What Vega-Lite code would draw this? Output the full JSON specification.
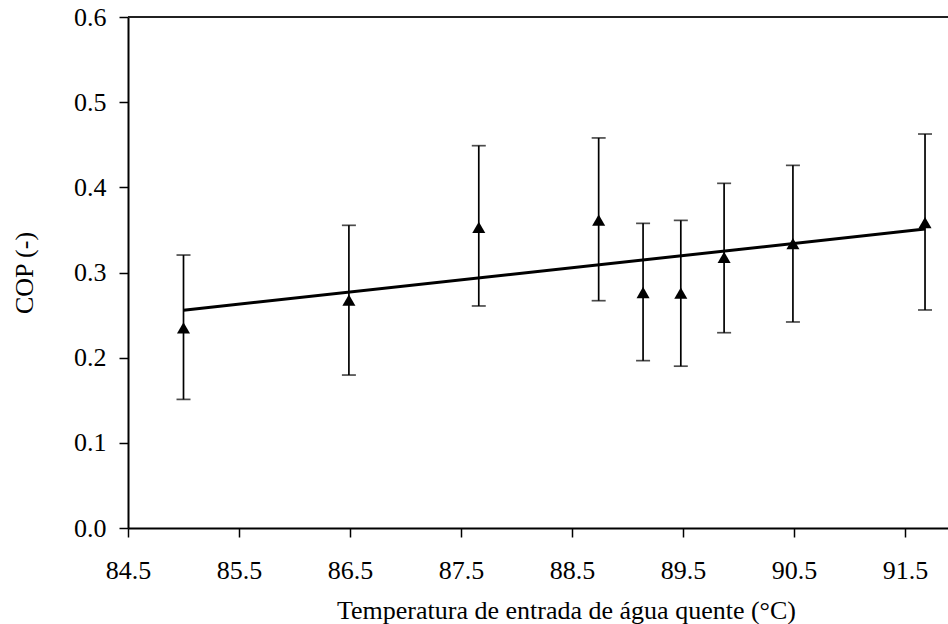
{
  "$schema": "https://vega.github.io/schema/vega-lite/v6.json",
  "autosize": {"type": "none"},
  "padding": {"left": 128, "top": 17, "right": 0, "bottom": 96},
  "width": 820,
  "height": 511,
  "background": "white",
  "config": {
    "view": {"stroke": null},
    "font": "Liberation Serif",
    "axis": {
      "labelFont": "Liberation Serif",
      "titleFont": "Liberation Serif",
      "labelFontSize": 26,
      "titleFontSize": 26,
      "labelColor": "black",
      "titleColor": "black",
      "titleFontWeight": "normal",
      "domainColor": "black",
      "tickColor": "black",
      "grid": false
    }
  },
  "data": {
    "values": [
      {"t": 85.0, "cop": 0.235, "lo": 0.151, "hi": 0.3205},
      {"t": 86.49, "cop": 0.2675, "lo": 0.1796, "hi": 0.3554},
      {"t": 87.66, "cop": 0.353, "lo": 0.2607, "hi": 0.4489},
      {"t": 88.74, "cop": 0.3616, "lo": 0.2669, "hi": 0.458},
      {"t": 89.14, "cop": 0.2765, "lo": 0.1965, "hi": 0.3577},
      {"t": 89.48, "cop": 0.2757, "lo": 0.19, "hi": 0.3612},
      {"t": 89.87, "cop": 0.3178, "lo": 0.2293, "hi": 0.4047},
      {"t": 90.49, "cop": 0.334, "lo": 0.2419, "hi": 0.4258},
      {"t": 91.68, "cop": 0.3585, "lo": 0.256, "hi": 0.4626}
    ]
  },
  "layer": [
    {
      "mark": {"type": "rule", "color": "black", "strokeWidth": 1.7},
      "encoding": {
        "x": {
          "field": "t", "type": "quantitative",
          "scale": {"domain": [84.5, 91.887], "nice": false, "zero": false},
          "axis": {
            "values": [84.5, 85.5, 86.5, 87.5, 88.5, 89.5, 90.5, 91.5],
            "format": ".1f",
            "title": "Temperatura de entrada de água quente (°C)",
            "domainWidth": 2,
            "tickSize": 9,
            "tickWidth": 1.5,
            "labelPadding": 20,
            "titlePadding": 14,
            "titleX": 438,
            "labelFlush": false,
            "labelOverlap": false
          }
        },
        "y": {
          "field": "lo", "type": "quantitative",
          "scale": {"domain": [0, 0.6], "nice": false},
          "axis": {
            "values": [0, 0.1, 0.2, 0.3, 0.4, 0.5, 0.6],
            "format": ".1f",
            "title": "COP (-)",
            "domainWidth": 2,
            "tickSize": 9,
            "tickWidth": 1.5,
            "labelPadding": 13,
            "titlePadding": 36,
            "labelFlush": false,
            "labelOverlap": false
          }
        },
        "y2": {"field": "hi"}
      }
    },
    {
      "mark": {"type": "tick", "orient": "horizontal", "color": "black", "size": 14, "thickness": 1.7},
      "encoding": {
        "x": {"field": "t", "type": "quantitative"},
        "y": {"field": "lo", "type": "quantitative"}
      }
    },
    {
      "mark": {"type": "tick", "orient": "horizontal", "color": "black", "size": 14, "thickness": 1.7},
      "encoding": {
        "x": {"field": "t", "type": "quantitative"},
        "y": {"field": "hi", "type": "quantitative"}
      }
    },
    {
      "transform": [{"regression": "cop", "on": "t"}],
      "mark": {"type": "line", "color": "black", "strokeWidth": 3},
      "encoding": {
        "x": {"field": "t", "type": "quantitative"},
        "y": {"field": "cop", "type": "quantitative"}
      }
    },
    {
      "mark": {"type": "point", "shape": "triangle-up", "filled": true, "color": "black", "size": 170, "opacity": 1},
      "encoding": {
        "x": {"field": "t", "type": "quantitative"},
        "y": {"field": "cop", "type": "quantitative"}
      }
    },
    {
      "mark": {"type": "rule", "color": "#222", "strokeWidth": 1.5},
      "encoding": {
        "y": {"datum": 0.6, "type": "quantitative"}
      }
    }
  ]
}
